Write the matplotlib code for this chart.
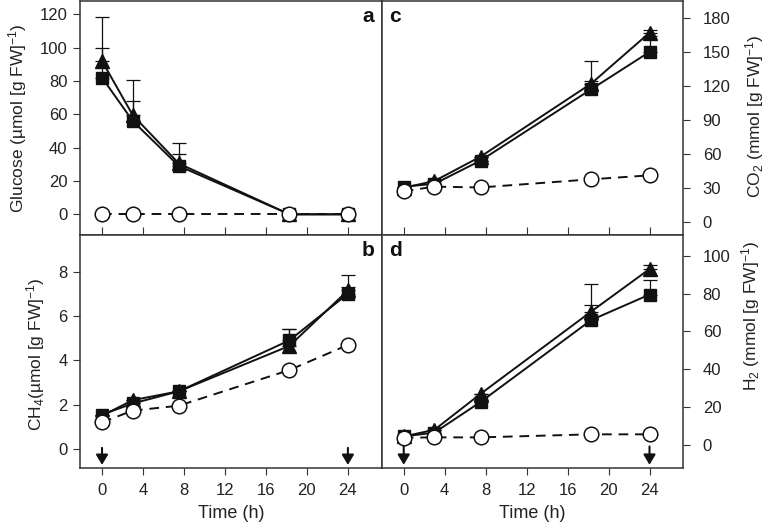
import matplotlib
matplotlib.use("Agg")
import matplotlib.pyplot as plt
import numpy as np

plt.rcParams['font.family'] = ['Liberation Sans', 'DejaVu Sans']
plt.rcParams['font.size'] = 12
plt.rcParams['mathtext.fontset'] = 'custom'
plt.rcParams['mathtext.rm'] = 'Liberation Sans'
plt.rcParams['mathtext.it'] = 'Liberation Sans:italic'
plt.rcParams['mathtext.bf'] = 'Liberation Sans:bold'

time_h = [0, 3, 7.5, 18.3, 24]
x_ticks = [0, 4, 8, 12, 16, 20, 24]

# Panel a: glucose (umol/g FW)
glc_tri = [92, 59.5, 30.5, 0, 0]
glc_sq = [82, 56, 29, 0, 0]
glc_circ = [0, 0, 0, 0, 0]
glc_tri_err = [26.5, 21, 12, 0, 0]
glc_sq_err = [17.5, 12, 7, 0, 0]

# Panel b: CH4 (umol/g FW)
ch4_tri = [1.5, 2.2, 2.6, 4.65, 7.15]
ch4_sq = [1.55, 2.05, 2.6, 4.9, 7.0]
ch4_circ = [1.2, 1.73, 1.95, 3.56, 4.69]
ch4_tri_err = [0, 0, 0, 0.75, 0.7]
ch4_sq_err = [0, 0, 0, 0.5, 0.3]

# Panel c: CO2 (mmol/g FW)
co2_tri = [30, 36, 57.5, 122, 167]
co2_sq = [31, 33.5, 54, 117, 150]
co2_circ = [27, 31, 30.3, 37.5, 41]
co2_tri_err = [0, 0, 0, 20, 2]
co2_sq_err = [0, 0, 0, 7, 14]

# Panel d: H2 (mmol/g FW)
h2_tri = [4.5, 8, 27, 70.5, 93]
h2_sq = [4.5, 6.5, 22.7, 66, 79.5]
h2_circ = [3.8, 4, 4, 5.6, 5.6]
h2_tri_err = [0, 0, 0, 14.5, 2]
h2_sq_err = [0, 0, 0, 8.2, 7.5]

W, H = 768, 527
fig = plt.figure(figsize=(W / 100, H / 100), dpi=100)
L, M, R = 80 / W, 381.7 / W, 683.3 / W
T, Mid, B = 1 - 1 / H, 1 - 235 / H, 1 - 468 / H

axa = fig.add_axes([L, Mid, M - L, T - Mid])
axb = fig.add_axes([L, B, M - L, Mid - B])
axc = fig.add_axes([M, Mid, R - M, T - Mid])
axd = fig.add_axes([M, B, R - M, Mid - B])

ink = '#111111'
spine_c = '#333333'
txt_c = '#222222'

def draw(ax, tri, sq, circ, tri_err, sq_err):
    ax.errorbar(time_h, tri, yerr=[np.zeros(len(tri)), tri_err], fmt='none',
                ecolor=ink, elinewidth=0.9, capsize=5, capthick=0.9, zorder=2)
    ax.errorbar(time_h, sq, yerr=[np.zeros(len(sq)), sq_err], fmt='none',
                ecolor=ink, elinewidth=0.9, capsize=5, capthick=0.9, zorder=2)
    ax.plot(time_h, circ, linestyle=(0, (5, 3.5)), color=ink, lw=1.4, zorder=3)
    ax.plot(time_h, tri, '-', color=ink, lw=1.4, marker='^', ms=10,
            mfc=ink, mec=ink, zorder=4)
    ax.plot(time_h, sq, '-', color=ink, lw=1.4, marker='s', ms=9,
            mfc=ink, mec=ink, zorder=5)
    ax.plot(time_h, circ, 'none', marker='o', ms=10.5, mfc='white', mec=ink,
            mew=1.1, zorder=6)
    ax.set_xlim(-2.15, 27.3)
    ax.set_xticks(x_ticks)
    for s in ax.spines.values():
        s.set_color(spine_c)
        s.set_linewidth(1.1)

draw(axa, glc_tri, glc_sq, glc_circ, glc_tri_err, glc_sq_err)
draw(axb, ch4_tri, ch4_sq, ch4_circ, ch4_tri_err, ch4_sq_err)
draw(axc, co2_tri, co2_sq, co2_circ, co2_tri_err, co2_sq_err)
draw(axd, h2_tri, h2_sq, h2_circ, h2_tri_err, h2_sq_err)

axa.set_ylim(-12.4, 128)
axa.set_yticks(range(0, 121, 20))
axb.set_ylim(-0.86, 9.65)
axb.set_yticks(range(0, 9, 2))
axc.set_ylim(-11.7, 195)
axc.set_yticks(range(0, 181, 30))
axd.set_ylim(-12.2, 111)
axd.set_yticks(range(0, 101, 20))

for ax in (axa, axc):
    ax.tick_params(axis='x', direction='in', length=6, labelbottom=False, color=spine_c)
for ax in (axb, axd):
    ax.tick_params(axis='x', direction='out', length=5, color=spine_c,
                   labelsize=12, labelcolor=txt_c, pad=6)
    ax.set_xlabel('Time (h)', fontsize=13, color=txt_c, labelpad=5)
for ax in (axa, axb):
    ax.tick_params(axis='y', direction='out', length=5, color=spine_c,
                   labelsize=12, labelcolor=txt_c, pad=4)
for ax in (axc, axd):
    ax.yaxis.tick_right()
    ax.tick_params(axis='y', direction='out', length=5, color=spine_c,
                   labelsize=12, labelcolor=txt_c, pad=9)

def ylab(xpx, ypx, s):
    fig.text(xpx / W, 1 - ypx / H, s, rotation=90, ha='center', va='center',
             fontsize=12.5, color=txt_c)

ylab(18, 118, 'Glucose (µmol [g FW]$^{-1}$)')
ylab(36, 354, 'CH$_4$(µmol [g FW]$^{-1}$)')
ylab(755, 116, 'CO$_2$ (mmol [g FW]$^{-1}$)')
ylab(751, 316, 'H$_2$ (mmol [g FW]$^{-1}$)')

axa.text(0.975, 0.975, 'a', transform=axa.transAxes, ha='right', va='top',
         fontsize=15, fontweight='bold', color=ink)
axb.text(0.975, 0.975, 'b', transform=axb.transAxes, ha='right', va='top',
         fontsize=15, fontweight='bold', color=ink)
axc.text(0.025, 0.975, 'c', transform=axc.transAxes, ha='left', va='top',
         fontsize=15, fontweight='bold', color=ink)
axd.text(0.025, 0.975, 'd', transform=axd.transAxes, ha='left', va='top',
         fontsize=15, fontweight='bold', color=ink)

arrow_x = [0, 24]
for ax, (y0, y1) in ((axb, (0.05, -0.72)), (axd, (-0.8, -10.5))):
    for xa in arrow_x:
        ax.annotate('', xy=(xa, y1), xytext=(xa, y0),
                    arrowprops=dict(arrowstyle='-|>,head_width=0.3,head_length=0.5',
                                    color=ink, lw=1.5, shrinkA=0, shrinkB=0))

fig.savefig('out.png', dpi=100)
